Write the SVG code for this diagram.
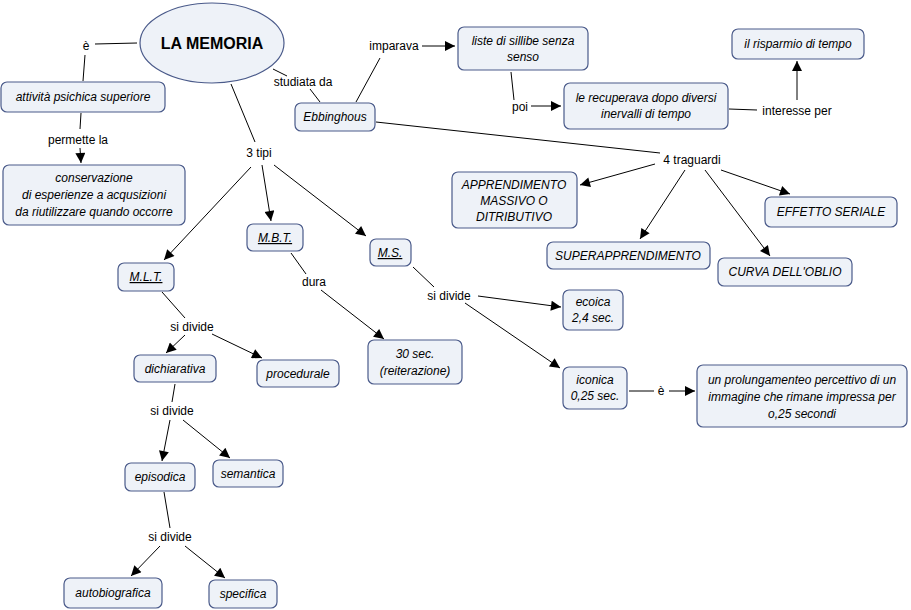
<svg xmlns="http://www.w3.org/2000/svg" width="911" height="610" viewBox="0 0 911 610">
<style>
.n{fill:#eef2f8;stroke:#4a5a8a;stroke-width:1.2}
.t{font-family:"Comic Sans MS","Liberation Sans",sans-serif;font-size:12px;font-style:italic;text-anchor:middle;fill:#000}
.l{font-family:"Comic Sans MS","Liberation Sans",sans-serif;font-size:12px;text-anchor:middle;fill:#000}
.c line{stroke:#000;stroke-width:1}
.c .a{marker-end:url(#ar)}
</style>
<defs><marker id="ar" viewBox="0 0 10 10" refX="10" refY="5" markerWidth="12" markerHeight="10" markerUnits="userSpaceOnUse" orient="auto"><path d="M0,0L10,5L0,10z" fill="#000"/></marker></defs>
<rect width="911" height="610" fill="#fff"/>
<g class="c">
<line x1="137" y1="43" x2="95" y2="44"/><line x1="85" y1="55" x2="83" y2="81"/>
<line x1="81" y1="113" x2="80" y2="129"/><line class="a" x1="80" y1="148" x2="81" y2="163"/>
<line x1="273" y1="69" x2="287" y2="76"/><line x1="310" y1="89" x2="320" y2="102"/>
<line x1="231" y1="84" x2="255" y2="142"/>
<line x1="251" y1="167" x2="164" y2="260" class="a"/>
<line x1="262" y1="165" x2="271" y2="221" class="a"/>
<line x1="274" y1="165" x2="366" y2="236" class="a"/>
<line x1="356" y1="102" x2="380" y2="58"/><line class="a" x1="422" y1="46" x2="455" y2="46"/>
<line x1="511" y1="72" x2="514" y2="100"/><line class="a" x1="531" y1="106" x2="561" y2="106"/>
<line x1="729" y1="109" x2="757" y2="110"/><line class="a" x1="797" y1="100" x2="797" y2="61"/>
<line x1="376" y1="122" x2="660" y2="153"/>
<line class="a" x1="655" y1="164" x2="580" y2="185"/>
<line class="a" x1="685" y1="170" x2="640" y2="239"/>
<line class="a" x1="705" y1="170" x2="770" y2="256"/>
<line class="a" x1="721" y1="170" x2="790" y2="194"/>
<line x1="291" y1="253" x2="306" y2="274"/><line class="a" x1="321" y1="290" x2="384" y2="339"/>
<line x1="413" y1="267" x2="434" y2="287"/>
<line class="a" x1="478" y1="296" x2="561" y2="307"/>
<line class="a" x1="465" y1="303" x2="560" y2="368"/>
<line x1="629" y1="391" x2="654" y2="391"/><line class="a" x1="669" y1="391" x2="695" y2="391"/>
<line x1="162" y1="292" x2="185" y2="318"/>
<line class="a" x1="185" y1="335" x2="166" y2="353"/>
<line class="a" x1="212" y1="334" x2="262" y2="358"/>
<line x1="175" y1="384" x2="172" y2="402"/>
<line class="a" x1="170" y1="420" x2="162" y2="461"/>
<line class="a" x1="183" y1="420" x2="230" y2="458"/>
<line x1="164" y1="492" x2="170" y2="528"/>
<line class="a" x1="160" y1="546" x2="131" y2="576"/>
<line class="a" x1="185" y1="546" x2="225" y2="578"/>
</g>
<g id="memoria"><ellipse class="n" cx="212" cy="43" rx="72" ry="40"/><text class="l" x="212" y="49" style="font-size:16px;font-weight:bold">LA MEMORIA</text></g>
<g id="attivita"><rect class="n" x="1" y="82" width="164" height="30" rx="6"/><text class="t" x="83" y="101">attività psichica superiore</text></g>
<g id="conservazione"><rect class="n" x="3" y="165" width="182" height="60" rx="6"/><text class="t" x="94" y="182">conservazione</text><text class="t" x="94" y="199">di esperienze a acqusizioni</text><text class="t" x="94" y="216">da riutilizzare quando occorre</text></g>
<g id="ebbinghous"><rect class="n" x="295" y="103" width="80" height="28" rx="6"/><text class="t" x="335" y="121">Ebbinghous</text></g>
<g id="liste"><rect class="n" x="458" y="27" width="130" height="43" rx="6"/><text class="t" x="523" y="45">liste di sillibe senza</text><text class="t" x="523" y="61">senso</text></g>
<g id="recuperava"><rect class="n" x="564" y="83" width="164" height="46" rx="6"/><text class="t" x="646" y="102">le recuperava dopo diversi</text><text class="t" x="646" y="118">inervalli di tempo</text></g>
<g id="risparmio"><rect class="n" x="732" y="29" width="132" height="30" rx="6"/><text class="t" x="798" y="48">il risparmio di tempo</text></g>
<g id="apprendimento"><rect class="n" x="452" y="172" width="125" height="56" rx="6"/><text class="t" x="514" y="189">APPRENDIMENTO</text><text class="t" x="514" y="205">MASSIVO O</text><text class="t" x="514" y="221">DITRIBUTIVO</text></g>
<g id="seriale"><rect class="n" x="765" y="197" width="132" height="30" rx="6"/><text class="t" x="831" y="216">EFFETTO SERIALE</text></g>
<g id="superapp"><rect class="n" x="547" y="242" width="163" height="27" rx="6"/><text class="t" x="628" y="260">SUPERAPPRENDIMENTO</text></g>
<g id="curva"><rect class="n" x="718" y="258" width="134" height="28" rx="6"/><text class="t" x="785" y="276">CURVA DELL'OBLIO</text></g>
<g id="mbt"><rect class="n" x="247" y="224" width="56" height="27" rx="6"/><text class="t" x="275" y="242" text-decoration="underline">M.B.T.</text></g>
<g id="ms"><rect class="n" x="370" y="239" width="41" height="27" rx="6"/><text class="t" x="390" y="257" text-decoration="underline">M.S.</text></g>
<g id="mlt"><rect class="n" x="118" y="263" width="56" height="28" rx="6"/><text class="t" x="146" y="281" text-decoration="underline">M.L.T.</text></g>
<g id="ecoica"><rect class="n" x="563" y="290" width="60" height="40" rx="6"/><text class="t" x="593" y="306">ecoica</text><text class="t" x="593" y="322">2,4 sec.</text></g>
<g id="iconica"><rect class="n" x="563" y="367" width="64" height="42" rx="6"/><text class="t" x="595" y="384">iconica</text><text class="t" x="595" y="400">0,25 sec.</text></g>
<g id="prolungamento"><rect class="n" x="697" y="365" width="210" height="62" rx="6"/><text class="t" x="802" y="384">un prolungamenteo percettivo di un</text><text class="t" x="802" y="401">immagine che rimane impressa per</text><text class="t" x="802" y="418">o,25 secondi</text></g>
<g id="sec30"><rect class="n" x="368" y="340" width="94" height="44" rx="6"/><text class="t" x="415" y="358">30 sec.</text><text class="t" x="415" y="375">(reiterazione)</text></g>
<g id="dichiarativa"><rect class="n" x="134" y="355" width="82" height="27" rx="6"/><text class="t" x="175" y="373">dichiarativa</text></g>
<g id="procedurale"><rect class="n" x="257" y="360" width="82" height="27" rx="6"/><text class="t" x="298" y="378">procedurale</text></g>
<g id="episodica"><rect class="n" x="125" y="463" width="70" height="28" rx="6"/><text class="t" x="160" y="481">episodica</text></g>
<g id="semantica"><rect class="n" x="213" y="460" width="70" height="27" rx="6"/><text class="t" x="248" y="478">semantica</text></g>
<g id="autobiografica"><rect class="n" x="64" y="578" width="98" height="30" rx="6"/><text class="t" x="113" y="597">autobiografica</text></g>
<g id="specifica"><rect class="n" x="209" y="580" width="68" height="28" rx="6"/><text class="t" x="243" y="598">specifica</text></g>
<g id="labels">
<text class="l" x="86" y="50">è</text><text class="l" x="78" y="144">permette la</text><text class="l" x="303" y="86">studiata da</text><text class="l" x="259" y="157">3 tipi</text><text class="l" x="394" y="50">imparava</text><text class="l" x="520" y="111">poi</text><text class="l" x="797" y="115">interesse per</text><text class="l" x="692" y="164">4 traguardi</text><text class="l" x="314" y="286">dura</text><text class="l" x="449" y="300">si divide</text><text class="l" x="192" y="331">si divide</text><text class="l" x="172" y="415">si divide</text><text class="l" x="170" y="541">si divide</text><text class="l" x="661" y="395">è</text>
</g>
</svg>
